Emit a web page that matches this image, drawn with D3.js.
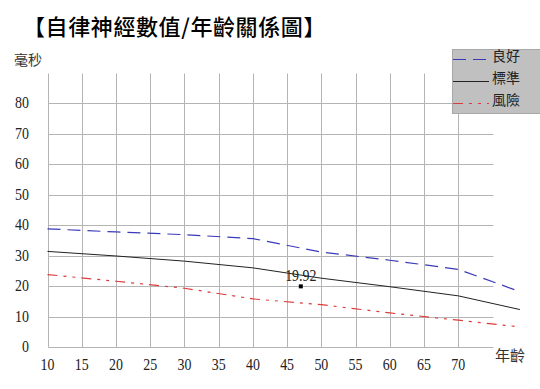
<!DOCTYPE html>
<html>
<head>
<meta charset="utf-8">
<script src="https://cdn.jsdelivr.net/npm/d3@7"></script>
<style>
  body { margin: 0; background: #fff; }
  svg { display: block; }
</style>
</head>
<body>
<svg id="chart" width="540" height="389"></svg>
<script>
// values
const ages = [10, 20, 30, 40, 50, 60, 70, 79]
const good = [38.8, 37.8, 36.9, 35.6, 31.2, 28.5, 25.5, 18.2]
const normal = [31.4, 29.9, 28.2, 26.0, 22.6, 19.8, 16.8, 12.3]
const risk = [23.8, 21.6, 19.3, 15.8, 13.9, 11.2, 8.8, 6.6]
const seriesNames = ['良好', '標準', '風險']
const xTicks = [10, 15, 20, 25, 30, 35, 40, 45, 50, 55, 60, 65, 70]
const yTicks = [0, 10, 20, 30, 40, 50, 60, 70, 80]
const marker = { age: 47, value: 19.92 }

const title = '【自律神經數值/年齡關係圖】'

const svg = d3.select('#chart')
const numFont = '"Liberation Serif", serif'
const cjkFont = '"Noto Sans CJK TC", sans-serif'

const x = d3.scaleLinear().domain([10, 75]).range([47.5, 492.5])
const y = d3.scaleLinear().domain([0, 90]).range([347, 73])
const px = v => Math.round(x(v)) + 0.5
const py = v => Math.round(y(v)) + 0.5

// title
svg.append('text').attr('x', 23).attr('y', 35)
    .style('font-family', cjkFont).style('font-size', '22px').style('font-weight', 500)
    .style('letter-spacing', '0.6px').style('fill', '#000').text(title)

// grid
const grid = svg.append('g').style('stroke', '#b4b4b4').style('stroke-width', 1)
grid.selectAll('.vg').data(xTicks.slice(1)).enter().append('line')
    .attr('x1', px).attr('x2', px).attr('y1', py(0)).attr('y2', py(90))
grid.selectAll('.hg').data(yTicks.slice(1)).enter().append('line')
    .attr('x1', px(10)).attr('x2', px(75)).attr('y1', py).attr('y2', py)
// axes
grid.append('line').attr('x1', px(10)).attr('x2', px(10)).attr('y1', py(0)).attr('y2', py(90))
grid.append('line').attr('x1', px(10)).attr('x2', px(75)).attr('y1', py(0)).attr('y2', py(0))

// tick labels (narrow tall serif digits)
function numText(g, tx, ty, anchor, s) {
    g.append('text')
        .attr('transform', `translate(${tx},${ty}) scale(0.82,1)`)
        .attr('text-anchor', anchor)
        .style('font-family', numFont).style('font-size', '17px').style('fill', '#222')
        .text(s)
}
const labels = svg.append('g')
yTicks.forEach(v => numText(labels, 29, y(v) + 5, 'end', v))
xTicks.forEach(v => numText(labels, x(v), 370, 'middle', v))

svg.append('text').attr('x', 14).attr('y', 65)
    .style('font-family', cjkFont).style('font-size', '14px').style('fill', '#333').text('毫秒')
svg.append('text').attr('x', 495).attr('y', 361)
    .style('font-family', cjkFont).style('font-size', '15px').style('fill', '#333').text('年齡')

// series
const series = [
    { name: seriesNames[0], values: good, color: '#3a3ab8', dash: '13,7', width: 1.2 },
    { name: seriesNames[1], values: normal, color: '#222', dash: null, width: 1 },
    { name: seriesNames[2], values: risk, color: '#dd3b3b', dash: '10,6,3,6,3,6', width: 1.2 }
]
const line = d3.line().x(d => x(d[0])).y(d => y(d[1]))

svg.selectAll('.series').data(series).enter().append('path')
    .attr('d', s => line(ages.map((a, i) => [a, s.values[i]])))
    .style('fill', 'none').style('stroke', s => s.color)
    .style('stroke-width', s => s.width).style('stroke-dasharray', s => s.dash)

// marked point
svg.append('rect').attr('x', x(marker.age) - 2).attr('y', y(marker.value) - 2)
    .attr('width', 4).attr('height', 4).style('fill', '#000')
numText(svg, x(marker.age), y(marker.value) - 5, 'middle', marker.value.toFixed(2))

// legend
const lg = svg.append('g')
lg.append('rect').attr('x', 452.5).attr('y', 49.5).attr('width', 90).attr('height', 64)
    .style('fill', '#c0c0c0').style('stroke', '#a8a8a8')
series.forEach((s, i) => {
    const ly = 59.5 + i * 22
    lg.append('line').attr('x1', 453).attr('x2', 489).attr('y1', ly).attr('y2', ly)
        .style('stroke', s.color).style('stroke-width', s.width).style('stroke-dasharray', s.dash)
    lg.append('text').attr('x', 492).attr('y', 56 + i * 22 + 5)
        .style('font-family', cjkFont).style('font-size', '14px').style('fill', '#222')
        .text(s.name)
})
</script>
</body>
</html>
